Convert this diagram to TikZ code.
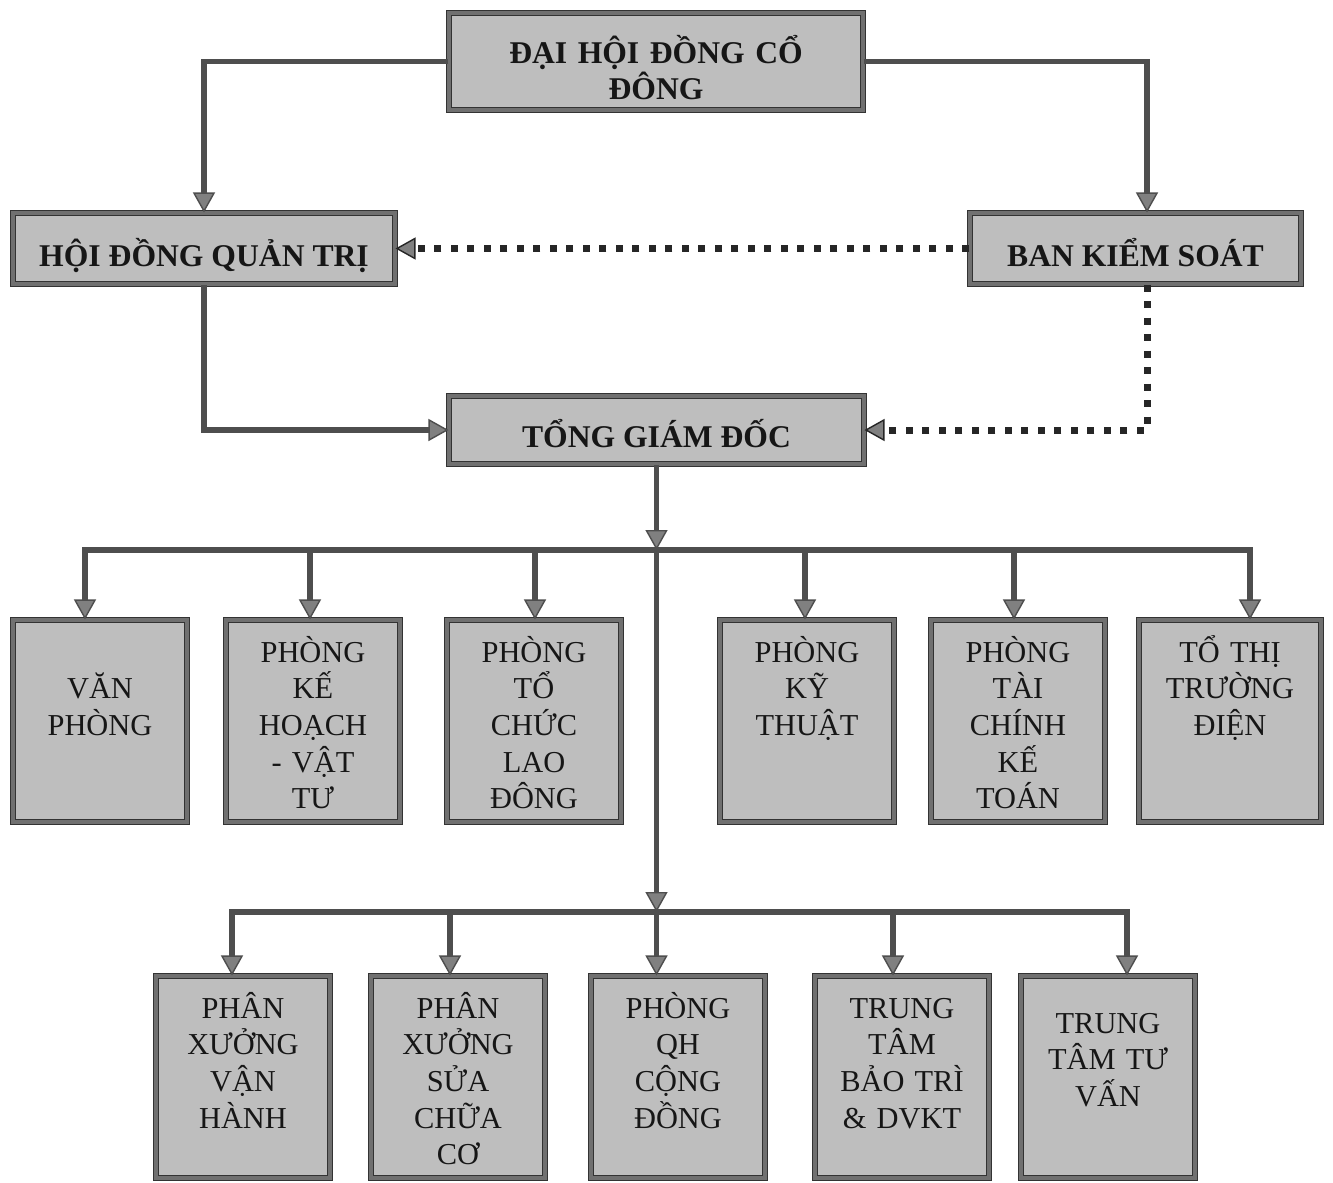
\documentclass[tikz,border=0pt]{standalone}
\usepackage{fontspec}
\setmainfont{Liberation Serif}
\usepackage{tikz}
\usetikzlibrary{arrows.meta,calc}
\definecolor{boxgray}{RGB}{190,190,190}
\definecolor{edgegray}{RGB}{112,112,112}
\definecolor{linegray}{RGB}{78,78,78}
\definecolor{tipgray}{RGB}{128,128,128}
\definecolor{inkgray}{RGB}{22,22,22}
\tikzset{>={Triangle[length=4mm,width=4.4mm,fill=tipgray,line width=0.8pt]}}
\tikzset{
  frame/.style={rectangle, draw=black!80, double=edgegray, double distance=2pt,
    line width=0.6pt, fill=boxgray, text=inkgray, inner sep=0pt},
  headbox/.style={frame, font=\fontsize{18pt}{21pt}\selectfont\bfseries,
    text height=0.7cm, text depth=0cm},
  unitbox/.style={frame, minimum width=3.48cm, minimum height=4.04cm,
    text width=3.4cm, align=center, text height=0.84cm, text depth=3.2cm,
    font=\fontsize{17.3pt}{20.9pt}\selectfont},
  link/.style={->, draw=linegray, line width=3pt},
  bus/.style={draw=linegray, line width=3pt, line cap=rect},
  watch/.style={->, draw=black!85, line width=0.14cm, dash pattern=on 0.14cm off 0.19cm}
}

\begin{document}
\begin{tikzpicture}
  \useasboundingbox[fill=white] (0,0) rectangle (26.66,-23.66);
  % governing bodies
  \node[headbox, minimum width=8.28cm, minimum height=1.94cm, text width=8cm, align=center, text height=0.86cm, text depth=0.8cm] (dh) at (13.12,-1.23) {ĐẠI HỘI ĐỒNG CỔ\\ĐÔNG};
  \node[headbox, minimum width=7.64cm, minimum height=1.42cm] (hd) at (4.08,-4.97) {HỘI ĐỒNG QUẢN TRỊ};
  \node[headbox, minimum width=6.62cm, minimum height=1.42cm] (bk) at (22.71,-4.97) {BAN KIỂM SOÁT};
  \node[headbox, minimum width=8.3cm, minimum height=1.36cm] (tg) at (13.13,-8.6) {TỔNG GIÁM ĐỐC};
  % departments
  \node[unitbox, text height=1.57cm, text depth=2.47cm] (vp) at (2.0,-14.42) {VĂN\\PHÒNG};
  \node[unitbox] (kh) at (6.26,-14.42) {PHÒNG\\KẾ\\HOẠCH\\- VẬT\\TƯ};
  \node[unitbox] (tc) at (10.68,-14.42) {PHÒNG\\TỔ\\CHỨC\\LAO\\ĐÔNG};
  \node[unitbox] (kt) at (16.14,-14.42) {PHÒNG\\KỸ\\THUẬT};
  \node[unitbox] (tck) at (20.36,-14.42) {PHÒNG\\TÀI\\CHÍNH\\KẾ\\TOÁN};
  \node[unitbox, minimum width=3.64cm] (ttd) at (24.6,-14.42) {TỔ THỊ\\TRƯỜNG\\ĐIỆN};
  % workshops and centres
  \node[unitbox] (vh) at (4.86,-21.54) {PHÂN\\XƯỞNG\\VẬN\\HÀNH};
  \node[unitbox] (sc) at (9.16,-21.54) {PHÂN\\XƯỞNG\\SỬA\\CHỮA\\CƠ};
  \node[unitbox] (qh) at (13.56,-21.54) {PHÒNG\\QH\\CỘNG\\ĐỒNG};
  \node[unitbox] (bt) at (18.04,-21.54) {TRUNG\\TÂM\\BẢO TRÌ\\\& DVKT};
  \node[unitbox, text height=1.14cm, text depth=2.9cm] (tv) at (22.16,-21.54) {TRUNG\\TÂM TƯ\\VẤN};
  % lines from the top
  \draw[link] (dh.west) -| (hd.north);
  \draw[link] (dh.east) -| ([xshift=0.23cm]bk.north);
  \draw[link] (hd.south) |- (tg.west);
  % supervision
  \draw[watch] (bk.west) -- (hd.east);
  \draw[watch] ([xshift=0.23cm]bk.south) |- (tg.east);
  % first bus
  \coordinate (p1) at (1.7,-11);
  \coordinate (p2) at (6.2,-11);
  \coordinate (p3) at (10.7,-11);
  \coordinate (p4) at (16.1,-11);
  \coordinate (p5) at (20.28,-11);
  \coordinate (p6) at (25.0,-11);
  \draw[link] (tg.south) -- (tg.south |- p1);
  \draw[bus] (p1) -- (p6);
  \draw[link] (p1) -- (p1 |- vp.north);
  \draw[link] (p2) -- (p2 |- kh.north);
  \draw[link] (p3) -- (p3 |- tc.north);
  \draw[link] (p4) -- (p4 |- kt.north);
  \draw[link] (p5) -- (p5 |- tck.north);
  \draw[link] (p6) -- (p6 |- ttd.north);
  % second bus
  \coordinate (q1) at (4.64,-18.24);
  \coordinate (q2) at (9.0,-18.24);
  \coordinate (q4) at (17.86,-18.24);
  \coordinate (q5) at (22.54,-18.24);
  \draw[link] (tg.south |- p1) -- (tg.south |- q1);
  \draw[bus] (q1) -- (q5);
  \draw[link] (q1) -- (q1 |- vh.north);
  \draw[link] (q2) -- (q2 |- sc.north);
  \draw[link] (tg.south |- q1) -- (tg.south |- qh.north);
  \draw[link] (q4) -- (q4 |- bt.north);
  \draw[link] (q5) -- (q5 |- tv.north);
\end{tikzpicture}
\end{document}
